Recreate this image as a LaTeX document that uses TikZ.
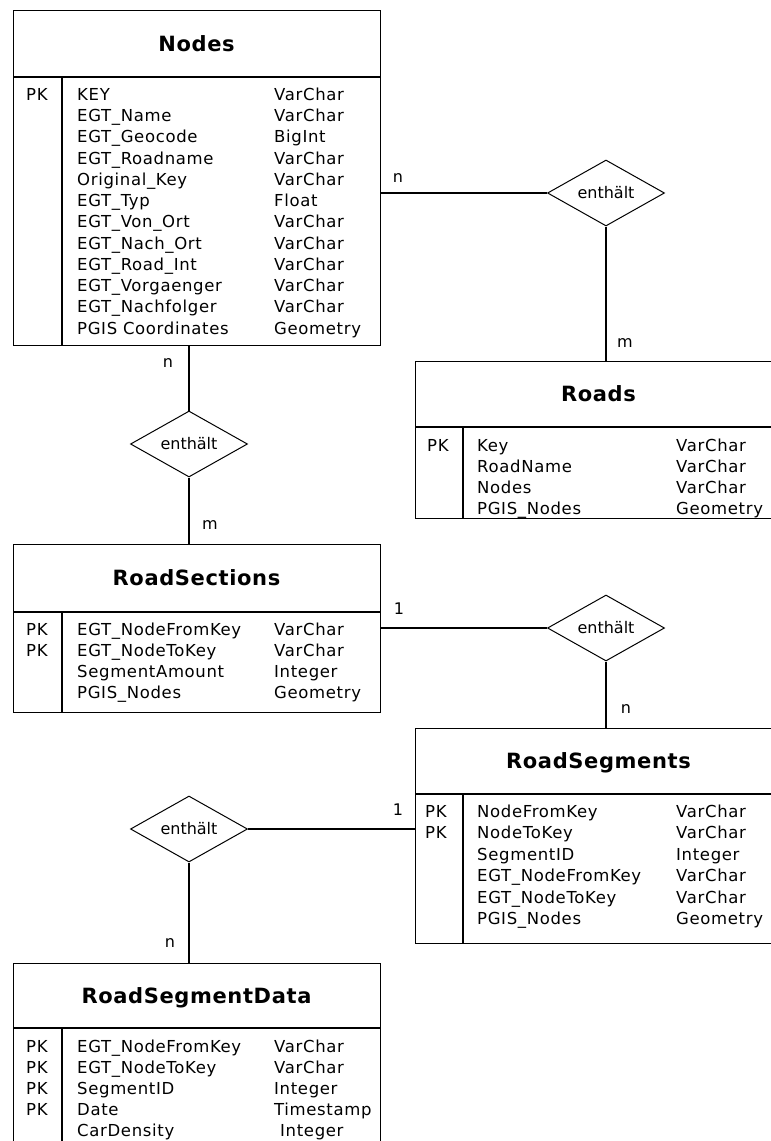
\documentclass[tikz,border=0pt]{standalone}
\usepackage{fontspec}
\setmainfont{DejaVu Sans}
\newfontfamily\bodyfont[LetterSpace=4]{DejaVu Sans}
\newfontfamily\headfont[LetterSpace=3]{DejaVu Sans}
\usetikzlibrary{shapes.geometric}
\begin{document}
\begin{tikzpicture}[x=1pt,y=-1pt,
 tbl/.style={draw, line width=1.4pt, minimum width=367pt, anchor=north west, inner sep=0pt},
 ttl/.style={font=\headfont\fontsize{21}{25}\selectfont\bfseries, text height=15.3pt, text depth=0pt, inner sep=0pt},
 cell/.style={font=\bodyfont\fontsize{16.5}{19}\selectfont, text height=12pt, text depth=0pt, inner sep=0pt, anchor=west},
 rel/.style={draw, line width=1pt, shape=diamond, aspect=2, minimum width=117pt, minimum height=66pt, inner sep=0pt, font=\fontsize{16}{19}\selectfont},
 con/.style={line width=1.3pt},
 sep/.style={line width=1.4pt},
 card/.style={font=\fontsize{16}{19}\selectfont, text height=8.75pt, text depth=0pt, inner sep=0pt},
 one/.style={card, text height=11.7pt}]
\useasboundingbox (0,0) rectangle (771,1141);
\clip (0,0) rectangle (771,1141);

% ---------- Nodes ----------
\node[tbl, minimum height=335pt] (nodes) at (13,10) {};
\draw[sep] (13,77) -- (380,77);
\draw[sep] (62,77) -- (62,345);
\node[ttl] (nodes-title) at (196.5,43.5) {Nodes};
\node[cell] (nodes-pk) at (26,94.5) {PK};
\foreach \n/\t [count=\i from 0] in {KEY/VarChar, EGT\_Name/VarChar, EGT\_Geocode/BigInt, EGT\_Roadname/VarChar, Original\_Key/VarChar, EGT\_Typ/Float, EGT\_Von\_Ort/VarChar, EGT\_Nach\_Ort/VarChar, EGT\_Road\_Int/VarChar, EGT\_Vorgaenger/VarChar, EGT\_Nachfolger/VarChar, PGIS\hspace{0.35em}Coordinates/Geometry} {
  \node[cell] (nodes-n\i) at (77,{94.5+21.24*\i}) {\n};
  \node[cell] (nodes-t\i) at (274,{94.5+21.24*\i}) {\t};
}

% ---------- Roads ----------
\node[tbl, minimum height=157pt] (roads) at (415,361) {};
\draw[sep] (415,427) -- (782,427);
\draw[sep] (463,427) -- (463,518);
\node[ttl] (roads-title) at (598.5,394) {Roads};
\node[cell] (roads-pk) at (427,445) {PK};
\foreach \n/\t [count=\i from 0] in {Key/VarChar, RoadName/VarChar, Nodes/VarChar, PGIS\_Nodes/Geometry} {
  \node[cell] (roads-n\i) at (477,{445+21*\i}) {\n};
  \node[cell] (roads-t\i) at (676,{445+21*\i}) {\t};
}

% ---------- RoadSections ----------
\node[tbl, minimum height=168pt] (rsec) at (13,544) {};
\draw[sep] (13,612) -- (380,612);
\draw[sep] (62,612) -- (62,712);
\node[ttl] (rsec-title) at (196.5,578) {RoadSections};
\node[cell] (rsec-pk0) at (26,629) {PK};
\node[cell] (rsec-pk1) at (26,650) {PK};
\foreach \n/\t [count=\i from 0] in {EGT\_NodeFromKey/VarChar, EGT\_NodeToKey/VarChar, SegmentAmount/Integer, PGIS\_Nodes/Geometry} {
  \node[cell] (rsec-n\i) at (77,{629+21*\i}) {\n};
  \node[cell] (rsec-t\i) at (274,{629+21*\i}) {\t};
}

% ---------- RoadSegments ----------
\node[tbl, minimum height=215pt] (rseg) at (415,728) {};
\draw[sep] (415,794) -- (782,794);
\draw[sep] (463,794) -- (463,943);
\node[ttl] (rseg-title) at (598.5,761) {RoadSegments};
\node[cell] (rseg-pk0) at (425,811) {PK};
\node[cell] (rseg-pk1) at (425,832.5) {PK};
\foreach \n/\t [count=\i from 0] in {NodeFromKey/VarChar, NodeToKey/VarChar, SegmentID/Integer, EGT\_NodeFromKey/VarChar, EGT\_NodeToKey/VarChar, PGIS\_Nodes/Geometry} {
  \node[cell] (rseg-n\i) at (477,{811+21.5*\i}) {\n};
  \node[cell] (rseg-t\i) at (676,{811+21.5*\i}) {\t};
}

% ---------- RoadSegmentData ----------
\node[tbl, minimum height=200pt] (rsd) at (13,963) {};
\draw[sep] (13,1028) -- (380,1028);
\draw[sep] (62,1028) -- (62,1163);
\node[ttl] (rsd-title) at (196.5,995.5) {RoadSegmentData};
\foreach \i in {0,...,3} {
  \node[cell] (rsd-pk\i) at (26,{1046.5+21*\i}) {PK};
}
\foreach \n/\t [count=\i from 0] in {EGT\_NodeFromKey/VarChar, EGT\_NodeToKey/VarChar, SegmentID/Integer, Date/Timestamp} {
  \node[cell] (rsd-n\i) at (77,{1046.5+21*\i}) {\n};
  \node[cell] (rsd-t\i) at (274,{1046.5+21*\i}) {\t};
}
\node[cell] (rsd-n4) at (77,1130.5) {CarDensity};
\node[cell] (rsd-t4) at (280,1130.5) {Integer};

% ---------- relationships ----------
\node[rel] (d1) at (606,193) {enthält};
\node[rel] (d2) at (189,444) {enthält};
\node[rel] (d3) at (606,628) {enthält};
\node[rel] (d4) at (189,829) {enthält};

\draw[con] (d1.west -| nodes.east) -- (d1.west);
\draw[con] (d1.south) -- (d1.south |- roads.north);
\draw[con] (d2.north |- nodes.south) -- (d2.north);
\draw[con] (d2.south) -- (d2.south |- rsec.north);
\draw[con] (d3.west -| rsec.east) -- (d3.west);
\draw[con] (d3.south) -- (d3.south |- rseg.north);
\draw[con] (d4.east) -- (d4.east -| rseg.west);
\draw[con] (d4.south) -- (d4.south |- rsd.north);

% ---------- cardinalities ----------
\node[card] (c1) at (398,178) {n};
\node[card] (c2) at (625,343) {m};
\node[card] (c3) at (168,363) {n};
\node[card] (c4) at (210,525) {m};
\node[one]  (c5) at (399,609) {1};
\node[card] (c6) at (626,709) {n};
\node[one]  (c7) at (398,810) {1};
\node[card] (c8) at (170,943) {n};
\end{tikzpicture}
\end{document}
